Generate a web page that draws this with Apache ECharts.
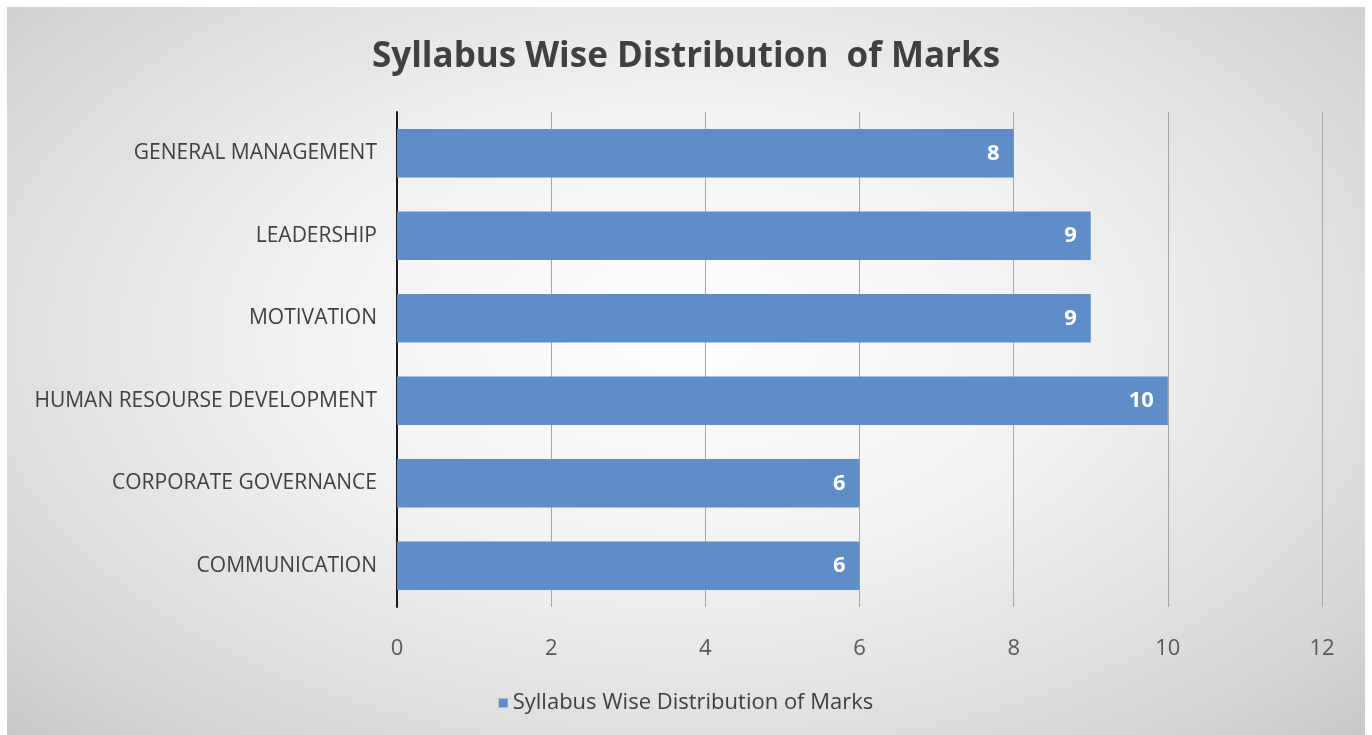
<!DOCTYPE html>
<html>
<head>
<meta charset="utf-8">
<script src="https://cdn.jsdelivr.net/npm/echarts@6/dist/echarts.min.js"></script>
<style>
  html, body { margin: 0; padding: 0; background: #fff; }
  #wrap {
    position: absolute; left: 7px; top: 7px; width: 1358px; height: 728px;
    background: radial-gradient(ellipse at 50% 45%, #ffffff 0%, #f2f2f2 40%, #d6d6d6 85%, #c8c8c8 100%);
  }
  #chart { width: 1358px; height: 728px; }
</style>
</head>
<body>
<div id="wrap"><div id="chart"></div></div>
<script>
// Categories listed bottom to top
const categories = [
  'COMMUNICATION',
  'CORPORATE GOVERNANCE',
  'HUMAN RESOURSE DEVELOPMENT',
  'MOTIVATION',
  'LEADERSHIP',
  'GENERAL MANAGEMENT',
]
const marks = [6, 6, 10, 9, 9, 8]
const seriesName = 'Syllabus Wise Distribution of Marks'
const titleText = 'Syllabus Wise Distribution  of Marks'

const FONT = '"Open Sans", Lato, sans-serif'

const chart = echarts.init(document.getElementById('chart'))

chart.setOption({
  backgroundColor: 'transparent',
  animation: false,
  title: {
    text: titleText,
    left: 'center',
    top: 28,
    textStyle: {
      fontFamily: FONT,
      fontSize: 35,
      fontWeight: 'bold',
      color: '#404040',
    },
  },
  legend: {
    bottom: 16,
    left: 'center',
    itemWidth: 9,
    itemHeight: 9,
    icon: 'rect',
    itemGap: 6,
    textStyle: {
      fontFamily: FONT,
      fontSize: 22,
      color: '#404040',
    },
    data: [seriesName],
  },
  grid: {
    left: 390,
    right: 43,
    top: 105,
    bottom: 128,
    containLabel: false,
  },
  xAxis: {
    type: 'value',
    min: 0,
    max: 12,
    interval: 2,
    axisLine: { show: false },
    axisTick: { show: false },
    axisLabel: {
      margin: 31,
      fontFamily: FONT,
      fontSize: 22,
      color: '#595959',
    },
    splitLine: {
      show: true,
      lineStyle: { color: '#a6a6a6', width: 1 },
    },
  },
  yAxis: {
    type: 'category',
    data: categories,
    axisLine: {
      show: true,
      lineStyle: { color: '#1a1a1a', width: 2 },
    },
    axisTick: { show: false },
    axisLabel: {
      margin: 20,
      fontFamily: FONT,
      fontSize: 21,
      color: '#404040',
    },
  },
  series: [
    {
      name: seriesName,
      type: 'bar',
      data: marks,
      barWidth: '59%',
      itemStyle: { color: '#5f8dc8' },
      label: {
        show: true,
        position: 'insideRight',
        distance: 14,
        fontFamily: FONT,
        fontSize: 22,
        fontWeight: 'bold',
        color: '#ffffff',
      },
    },
  ],
})
</script>
</body>
</html>
